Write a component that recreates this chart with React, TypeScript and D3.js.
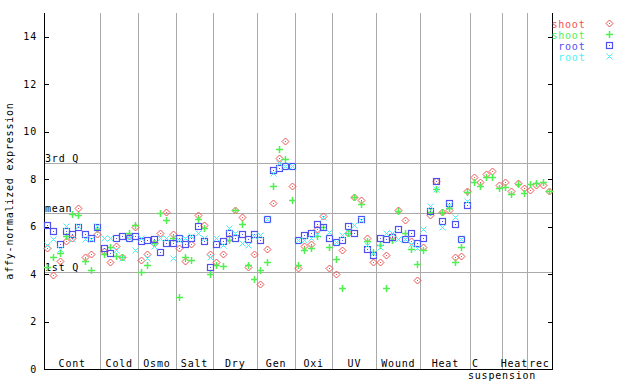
import React from "react";
import { scaleLinear, sum } from "d3";

const width = 640;
const height = 384;
const margin = { top: 13, right: 88, bottom: 15, left: 44 };
const font = "'DejaVu Sans Mono', monospace";

// groups along the x axis (sample counts)
const groups = ["Cont", "Cold", "Osmo", "Salt", "Dry", "Gen", "Oxi", "UV", "Wound", "Heat", "C\nsuspension", "Heat", "rec"];
const groupSizes = [9, 6, 6, 6, 7, 6, 6, 7, 7, 8, 5, 4, 4];

const yTicks = [0, 2, 4, 6, 8, 10, 12, 14];
const refLines = [
  { label: "3rd Q", value: 8.66 },
  { label: "mean", value: 6.59 },
  { label: "1st Q", value: 4.07 },
];

// shoot (red diamonds)
const shootA = [
  5.08, 3.96, 4.55, 5.4, 5.5, 6.78, 4.72, 4.84, 5.7,
  4.97, 4.49, 5.19, 4.72, 5.6, 5.99,
  4.59, 4.83, 5.3, 5.73, 6.6, 5.67,
  5.08, 4.55, 5.26, 6.5, 6.06, 4.84,
  4.5, 4.84, 5.54, 6.69, 6.42, 4.3, 4.84,
  3.58, 5.05, 6.98, 8.91, 9.59, 7.73,
  4.24, 5.2, 5.26, 5.88, 6.44, 4.24,
  4.0, 5.01, 5.75, 7.23, 7.12, 5.54, 4.52,
  4.52, 4.8, 5.6, 6.72, 6.27, 5.4, 3.75,
  5.12, 6.47, 7.93, 6.6, 6.72, 4.73, 4.76, 7.49,
  8.07, 7.86, 8.21, 8.35, 7.75,
  7.89, 7.51, 7.82, 7.61,
  7.54, 7.75, 7.75, 7.51,
];
// shoot (green plus)
const shootB = [
  4.28, 4.7, 4.87, 5.6, 6.55, 6.48, 4.54, 4.17, 5.88,
  4.83, 5.12, 4.77, 4.72, 5.75, 6.06,
  4.07, 4.37, 5.32, 6.56, 6.27, 5.53,
  3.04, 4.7, 4.59, 6.34, 5.92, 4.0,
  4.38, 4.34, 5.43, 6.72, 6.13, 4.38, 3.78,
  4.17, 4.52, 7.69, 9.25, 8.83, 7.1,
  4.38, 5.01, 5.08, 5.6, 6.0, 5.12,
  4.62, 3.4, 5.71, 7.23, 6.95, 5.4, 4.94,
  5.22, 3.4, 5.43, 6.67, 5.74, 5.04, 4.42,
  5.01, 6.6, 7.6, 6.6, 6.79, 4.52, 5.12, 7.45,
  7.86, 7.72, 8.07, 8.07, 7.61,
  7.68, 7.37, 7.79, 7.4,
  7.79, 7.82, 7.86, 7.51,
];
// root (blue squares) - no root samples for the last three groups
const rootA = [
  6.06, 5.81, 5.25, 5.81, 5.68, 5.99, 5.68, 5.54, 5.99,
  5.08, 4.87, 5.5, 5.59, 5.53, 5.59,
  5.39, 5.43, 5.47, 4.91, 5.33, 5.29,
  5.54, 5.26, 5.54, 6.02, 5.39, 4.28,
  5.26, 5.39, 5.75, 5.5, 5.68, 5.46, 5.68,
  5.43, 6.34, 8.37, 8.45, 8.57, 8.57,
  5.43, 5.64, 5.71, 6.13, 5.99, 5.5,
  5.36, 5.43, 6.02, 5.75, 6.3, 5.04, 4.8,
  5.5, 5.46, 5.57, 5.88, 5.46, 5.71, 5.32,
  5.54, 6.65, 7.93, 6.23, 6.98, 6.13, 5.47, 6.89,
];
// root (cyan x)
const rootB = [
  5.22, 5.46, 5.04, 6.02, 5.46, 6.02, 5.46, 5.46, 6.02,
  5.5, 5.5, 5.01, 4.69, 5.53, 5.01,
  5.5, 4.69, 5.19, 5.53, 5.53, 4.69,
  5.45, 5.5, 5.6, 5.74, 5.54, 4.7,
  5.54, 5.22, 5.95, 5.71, 5.33, 5.22, 5.6,
  5.64, 6.34, 8.27, 8.69, 8.57, 8.57,
  5.43, 5.43, 5.5, 5.68, 6.41, 5.78,
  5.36, 5.64, 5.78, 6.06, 6.27, 5.22, 4.87,
  5.12, 5.71, 5.74, 5.46, 5.46, 5.26, 5.08,
  5.88, 6.86, 7.6, 5.97, 6.9, 6.39, 5.47, 7.06,
];

const series = [
  { name: "shoot", values: shootA, color: "#f05050", shape: "diamond" },
  { name: "shoot", values: shootB, color: "#50f050", shape: "plus" },
  { name: "root", values: rootA, color: "#5050f0", shape: "square" },
  { name: "root", values: rootB, color: "#50f0f0", shape: "cross" },
];

const Marker = ({ shape, color, cx, cy }) => {
  const t = `translate(${Math.round(cx) + 0.5},${Math.round(cy) + 0.5})`;
  if (shape === "diamond")
    return (
      <g transform={t}>
        <path d="M0,-3.5L3.5,0L0,3.5L-3.5,0Z" fill="none" stroke={color} strokeWidth={1} />
        <rect x={-0.5} y={-0.5} width={1} height={1} fill={color} />
      </g>
    );
  if (shape === "plus")
    return (
      <g transform={t}>
        <path d="M-3.5,0H3.5M0,-3.5V3.5" stroke={color} strokeWidth={1.5} />
      </g>
    );
  if (shape === "square")
    return (
      <g transform={t}>
        <rect x={-3} y={-3} width={6} height={6} fill="none" stroke={color} strokeWidth={1.2} />
        <rect x={-0.5} y={-0.5} width={1} height={1} fill={color} />
      </g>
    );
  return (
    <g transform={t}>
      <path d="M-3,-3L3,3M3,-3L-3,3" stroke={color} strokeWidth={1} />
    </g>
  );
};

export default function App() {
  const n = sum(groupSizes);
  const x = scaleLinear().domain([-0.5, n - 0.5]).range([margin.left, width - margin.right]);
  const y = scaleLinear().domain([0, 15]).range([height - margin.bottom, margin.top]);
  const x0 = x.range()[0];
  const x1 = x.range()[1];
  const yb = y(0);
  const yt = y(15);

  let cum = 0;
  const groupInfo = groupSizes.map((s, i) => {
    const start = cum;
    cum += s;
    return { label: groups[i], start: x(start - 0.5), end: x(cum - 0.5) };
  });

  const textStyle = { fontFamily: font, fontSize: 10, letterSpacing: 0.8 };

  return (
    <svg width={width} height={height} style={{ position: "absolute", left: 0, top: 0, background: "#fff" }}>
      {/* reference lines */}
      {refLines.map((r) => (
        <g key={r.label}>
          <line x1={x0} x2={x1} y1={Math.round(y(r.value)) + 0.5} y2={Math.round(y(r.value)) + 0.5} stroke="#aaa" />
          <text x={x0 + 1} y={Math.round(y(r.value)) - 1} style={textStyle} fill="#000">
            {r.label}
          </text>
        </g>
      ))}
      {/* group separators */}
      {groupInfo.slice(0, -1).map((g, i) => (
        <line key={i} x1={Math.round(g.end) + 0.5} x2={Math.round(g.end) + 0.5} y1={yt} y2={yb} stroke="#aaa" />
      ))}
      {/* group labels */}
      {groupInfo.map((g, i) => {
        const lines = g.label.split("\n");
        if (lines.length > 1)
          return (
            <g key={i}>
              <text x={g.start + 1.5} y={yb - 2.5} style={textStyle}>{lines[0]}</text>
              <text x={g.start - 2.5} y={yb + 9.5} style={textStyle}>{lines[1]}</text>
            </g>
          );
        return (
          <text key={i} x={(g.start + g.end) / 2} y={yb - 2.5} textAnchor="middle" style={textStyle}>
            {g.label}
          </text>
        );
      })}
      {/* axes */}
      <line x1={x0 + 0.5} x2={x0 + 0.5} y1={yt} y2={yb} stroke="#000" />
      <line x1={x1 + 0.5} x2={x1 + 0.5} y1={yt} y2={yb} stroke="#000" />
      <line x1={x0} x2={x1 + 1} y1={yb + 0.5} y2={yb + 0.5} stroke="#000" />
      {yTicks.map((t) => (
        <g key={t}>
          <line x1={x0} x2={x0 + 5} y1={Math.round(y(t)) + 0.5} y2={Math.round(y(t)) + 0.5} stroke="#000" />
          <line x1={x1 - 4} x2={x1} y1={Math.round(y(t)) + 0.5} y2={Math.round(y(t)) + 0.5} stroke="#000" />
          <text x={37} y={y(t) + 3.5} textAnchor="end" style={textStyle}>
            {t}
          </text>
        </g>
      ))}
      <text
        transform={`translate(13,${(yt + yb) / 2}) rotate(-90)`}
        textAnchor="middle"
        style={textStyle}
      >
        affy-normalized expression
      </text>
      {/* points */}
      {series.map((s, si) => (
        <g key={si}>
          {s.values.map((v, i) =>
            v == null ? null : <Marker key={i} shape={s.shape} color={s.color} cx={x(i)} cy={y(v)} />
          )}
        </g>
      ))}
      {/* legend */}
      {series.map((s, si) => (
        <g key={si}>
          <text x={585.5} y={27.5 + si * 11} textAnchor="end" style={textStyle} fill={s.color}>
            {s.name}
          </text>
          <Marker shape={s.shape} color={s.color} cx={609} cy={23 + si * 11} />
        </g>
      ))}
    </svg>
  );
}
